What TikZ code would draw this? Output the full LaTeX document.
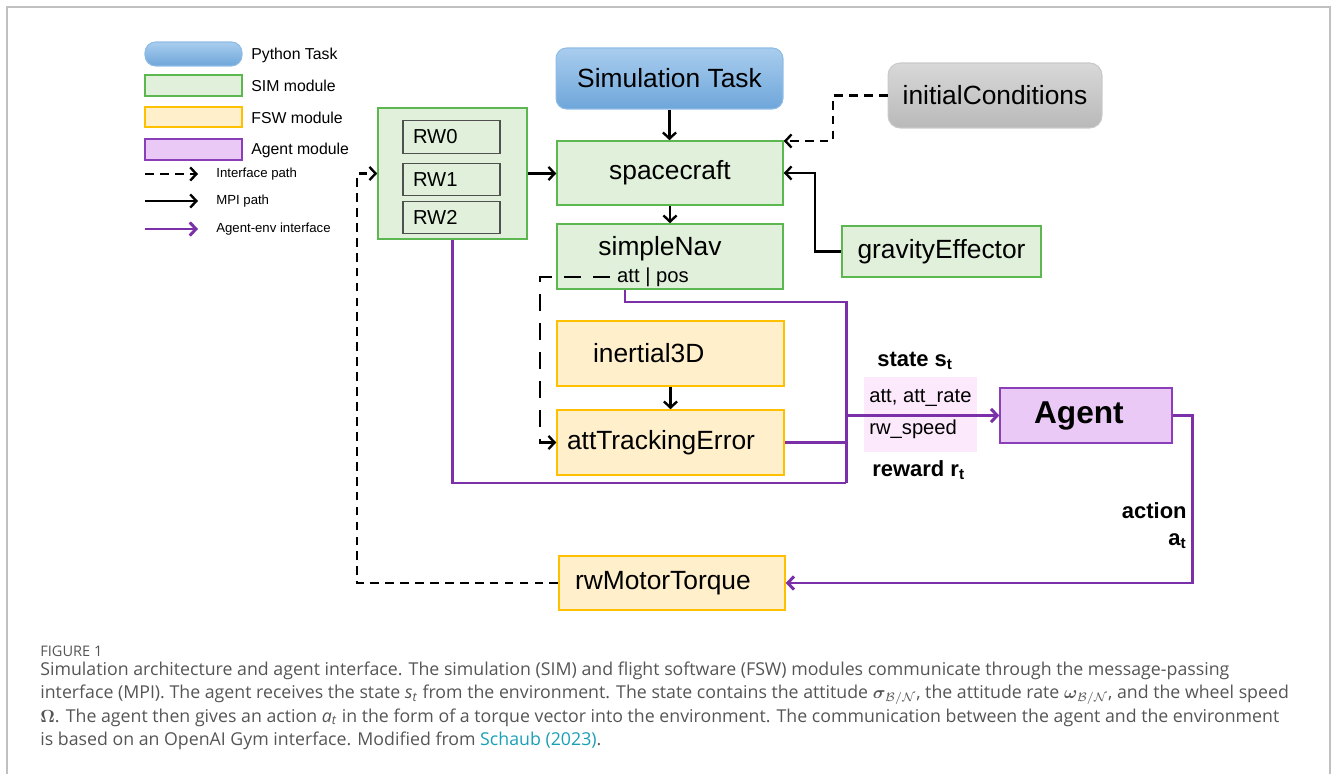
\documentclass[tikz,border=0pt]{standalone}
\usepackage{amsmath}
\usepackage{fontspec}
\setmainfont{Liberation Sans}
\newfontfamily\capfont{Open Sans}
\usetikzlibrary{arrows.meta,calc}

\definecolor{pyTop}{HTML}{A9CDEE}
\definecolor{pyBot}{HTML}{6EA6DA}
\definecolor{pyLine}{HTML}{8FBCE6}
\definecolor{simFill}{HTML}{E0F0DA}
\definecolor{simLine}{HTML}{5DB750}
\definecolor{fswFill}{HTML}{FFF0CB}
\definecolor{fswLine}{HTML}{FFC000}
\definecolor{agtFill}{HTML}{EAC9F7}
\definecolor{agtLine}{HTML}{8A3FB8}
\definecolor{agPurple}{HTML}{7B2FA8}
\definecolor{stFill}{HTML}{FCE9FC}
\definecolor{icTop}{HTML}{D8D8D8}
\definecolor{icBot}{HTML}{B9B9B9}
\definecolor{icLine}{HTML}{C9C9C9}
\definecolor{rwGrey}{HTML}{505050}
\definecolor{capGrey}{HTML}{555555}
\definecolor{linkTeal}{HTML}{1AA0B5}
\definecolor{frameGrey}{HTML}{C0C0C0}

\newcommand{\fbig}{\fontsize{15}{18}\selectfont}
\newcommand{\fmid}{\fontsize{11.5}{14}\selectfont}
\newcommand{\flab}{\fontsize{12.5}{15}\selectfont\bfseries}
\newcommand{\fleg}{\fontsize{9}{11}\selectfont}
\newcommand{\flegs}{\fontsize{7.5}{9}\selectfont}
\newcommand{\fagent}{\fontsize{18}{21}\selectfont\bfseries}

\tikzset{
	>={Straight Barb[length=3.5pt,width=7.5pt]},
	txt/.style={inner sep=0pt},
	pytask/.style={draw=pyLine,top color=pyTop,bottom color=pyBot,rounded corners=6pt,line width=0.6pt,inner sep=0pt},
	simmod/.style={draw=simLine,fill=simFill,line width=0.9pt,inner sep=0pt},
	fswmod/.style={draw=fswLine,fill=fswFill,line width=0.9pt,inner sep=0pt},
	agentmod/.style={draw=agtLine,fill=agtFill,line width=0.9pt,inner sep=0pt},
	icmod/.style={draw=icLine,top color=icTop,bottom color=icBot,rounded corners=7pt,line width=0.6pt,inner sep=0pt},
	rwbox/.style={draw=rwGrey,fill=simFill,line width=0.6pt,minimum height=0.65cm,text width=1.54cm,inner xsep=0.2cm,inner ysep=0pt,align=left,font=\fmid},
	mpi/.style={draw=black,line width=1.35pt},
	iface/.style={draw=black,line width=1.35pt,dash pattern=on 5pt off 3.5pt},
	ifacelong/.style={draw=black,line width=1.35pt,dash pattern=on 9.5pt off 7pt},
	agentline/.style={draw=agPurple,line width=1.7pt},
	captxt/.style={inner sep=0pt,anchor=base west,text=capGrey,font=\capfont\fontsize{10.1}{13}\selectfont}
}

\begin{document}
\begin{tikzpicture}[x=0.02cm,y=-0.02cm]
	\useasboundingbox (0,0) rectangle (1333,774);
	\draw[frameGrey,line width=0.8pt] (7,774) -- (7,7) -- (1330,7) -- (1330,774);

	\node[pytask,minimum width=1.94cm,minimum height=0.48cm] (lgPy) at (193.5,54) {};
	\node[simmod,minimum width=1.94cm,minimum height=0.42cm] (lgSim) at (193.5,85.5) {};
	\node[fswmod,minimum width=1.94cm,minimum height=0.40cm] (lgFsw) at (193.5,117) {};
	\node[agentmod,minimum width=1.94cm,minimum height=0.42cm] (lgAgt) at (193.5,149.5) {};
	\foreach \n/\y/\t in {lgPyT/55/Python Task, lgSimT/86/SIM module, lgFswT/118/FSW module, lgAgtT/150/Agent module}
	{
		\node[txt,anchor=west,font=\fleg] (\n) at (251,\y) {\t};
	}
	\foreach \n/\y/\s/\t in {lgIf/174/iface/Interface path, lgMpi/201/mpi/MPI path, lgAe/229/agentline/Agent-env interface}
	{
		\coordinate (\n-a) at (145,\y);
		\coordinate (\n-b) at (198,\y);
		\draw[\s,->] (\n-a) -- (\n-b);
		\node[txt,anchor=west,font=\flegs] (\n T) at (216,\y) {\t};
	}

	\node[pytask,minimum width=4.54cm,minimum height=1.22cm,font=\fbig] (simTask) at (669.5,78.5) {Simulation Task};
	\node[simmod,minimum width=2.98cm,minimum height=2.62cm] (rwGrp) at (452.5,173.5) {};
	\foreach \i/\y in {0/137,1/179.5,2/217.5}
	{
		\node[rwbox] (rw\i) at (451.5,\y) {RW\i};
	}
	\node[simmod,minimum width=4.52cm,minimum height=1.28cm,font=\fbig] (sc) at (670,173) {spacecraft};
	\node[simmod,minimum width=4.52cm,minimum height=1.30cm] (nav) at (670,256.5) {};
	\node[txt,font=\fbig] (navT) at (660,249) {simpleNav};
	\node[txt,font=\fmid] (navAtt) at (653,277) {att | pos};
	\node[icmod,minimum width=4.28cm,minimum height=1.30cm,font=\fbig] (ic) at (995,95.5) {initialConditions};
	\node[simmod,minimum width=3.98cm,minimum height=1.02cm,font=\fbig] (grav) at (941.5,251.5) {gravityEffector};
	\node[fswmod,minimum height=1.30cm,text width=3.10cm,inner xsep=0.72cm,align=left,font=\fbig] (inert) at (670.5,353.5) {inertial3D};
	\node[fswmod,minimum height=1.30cm,text width=4.14cm,inner xsep=0.2cm,align=left,font=\fbig] (ate) at (670.5,442.5) {attTrackingError};
	\node[fswmod,minimum height=1.08cm,text width=3.88cm,inner xsep=0.32cm,align=left,font=\fbig] (rwmt) at (672,583) {rwMotorTorque};
	\node[agentmod,minimum width=3.44cm,minimum height=1.10cm,font=\fagent] (agent) at (1086,415.5) {\hspace*{-0.45em}Agent};

	\node[fill=stFill,minimum width=2.26cm,minimum height=1.50cm,inner sep=0pt] (stBox) at (920.5,414.5) {};
	\node[txt,anchor=west,font=\fmid] (stA) at (869,398) {att, att\_rate};
	\node[txt,anchor=west,font=\fmid] (stB) at (869,429) {rw\_speed};
	\node[txt,anchor=west,font=\flab] (stLbl) at (877,361) {state s\textsubscript{t}};
	\node[txt,anchor=west,font=\flab] (rwdLbl) at (872,470) {reward r\textsubscript{t}};
	\node[txt,anchor=east,font=\flab] (actLbl) at (1187,511) {action};
	\node[txt,anchor=east,font=\flab] (actSub) at (1187,541) {a\textsubscript{t}};

	\draw[mpi,->] (simTask.south) -- (simTask.south |- sc.north);
	\draw[mpi,->] (sc.south) -- (nav.north);
	\draw[mpi,->] (inert.south) -- (ate.north);
	\draw[mpi,->] (rwGrp.east) -- (rwGrp.east -| sc.west);
	\coordinate (gvBend) at (815,173);
	\draw[mpi,->] (grav.west) -| (gvBend) -- (sc.east);
	\coordinate (icBend) at (833,141);
	\draw[iface,->] (ic.west) -| (icBend) -- (icBend -| sc.east);
	\coordinate (attStart) at ($(navAtt.west)+(-7,0)$);
	\coordinate (attBend) at (540,277);
	\draw[ifacelong,->] (attStart) -- (attBend) |- (ate.west);
	\coordinate (rwBend) at (357,583);
	\draw[iface,->] (rwmt.west) -- (rwBend) |- (rwGrp.west);

	\coordinate (navOut) at ($(nav.south)+(-45,0)$);
	\coordinate (busTop) at (846,302);
	\coordinate (busBot) at (846,483);
	\draw[agentline] (navOut) |- (busTop) -- (busBot);
	\draw[agentline] (rwGrp.south) |- (busBot);
	\draw[agentline] (ate.east) -- (ate.east -| busTop);
	\draw[agentline,->] (busTop |- agent.west) -- (agent.west);
	\coordinate (actBend) at (1192,415.5);
	\draw[agentline,->] (agent.east) -- (actBend) |- (rwmt.east);

	\node[captxt,font=\capfont\fontsize{8.3}{10}\selectfont] (capFig) at (40,656) {FIGURE 1};
	\node[captxt] (cap1) at (40,675) {Simulation architecture and agent interface. The simulation (SIM) and flight software (FSW) modules communicate through the message-passing};
	\node[captxt] (cap2) at (40,698.5) {interface (MPI). The agent receives the state \textit{s}\textsubscript{\textit{t}} from the environment. The state contains the attitude $\boldsymbol{\sigma}_{\mathcal{B}/\mathcal{N}}$, the attitude rate $\boldsymbol{\omega}_{\mathcal{B}/\mathcal{N}}$, and the wheel speed};
	\node[captxt] (cap3) at (40,722) {$\boldsymbol{\Omega}$. The agent then gives an action \textit{a}\textsubscript{\textit{t}} in the form of a torque vector into the environment. The communication between the agent and the environment};
	\node[captxt] (cap4) at (40,745.5) {is based on an OpenAI Gym interface. Modified from {\color{linkTeal}Schaub (2023)}.};
\end{tikzpicture}
\end{document}
